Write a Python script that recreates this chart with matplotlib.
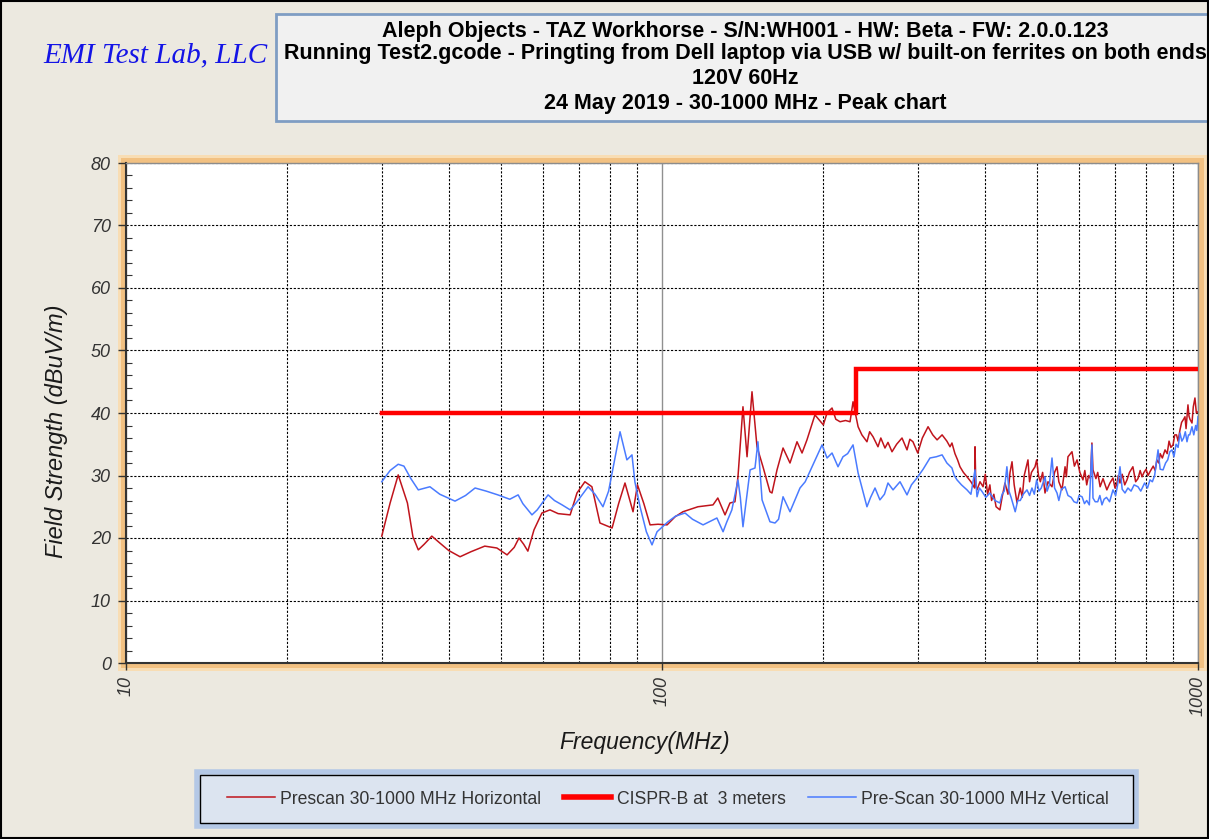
#!/usr/bin/env python
# -*- coding: utf-8 -*-

"""
Radiated emission prescan chart, 30-1000 MHz, peak detector.
"""

# Third party modules.
import matplotlib
matplotlib.use("Agg")
import matplotlib.pyplot as plt
from matplotlib.patches import Rectangle
from matplotlib.lines import Line2D
from matplotlib.ticker import FixedLocator, FixedFormatter, MultipleLocator, NullFormatter

# Globals and constants variables.
WIDTH_px = 1209
HEIGHT_px = 839

title_lines = ["Aleph Objects - TAZ Workhorse - S/N:WH001 - HW: Beta - FW: 2.0.0.123",
               "Running Test2.gcode - Pringting from Dell laptop via USB w/ built-on ferrites on both ends",
               "120V 60Hz",
               "24 May 2019 - 30-1000 MHz - Peak chart"]

series_labels = ["Prescan 30-1000 MHz Horizontal", "CISPR-B at  3 meters", "Pre-Scan 30-1000 MHz Vertical"]

x_ticks_mhz = [10, 100, 1000]
x_tick_labels = ["10", "100", "1000"]
x_minor_mhz = [20, 30, 40, 50, 60, 70, 80, 90, 200, 300, 400, 500, 600, 700, 800, 900]

# CISPR-B limit line at 3 m
limit_freq_mhz = [30, 230, 1000]
limit_level = [40, 47, 47]

# Horizontal polarisation prescan
horiz_freq_mhz = [30.0, 31.1, 32.2, 33.5, 34.3, 35.1, 36.0, 37.2, 38.5, 40.0, 42.0, 44.0, 46.7, 49.2,
                  51.4, 53.0, 54.1, 55.2, 56.2, 57.7, 59.7, 61.8, 64.0, 67.4, 69.4, 71.8, 74.0, 76.6,
                  80.7, 83.0, 85.3, 88.3, 90.0, 92.5, 95.0, 98.3, 102.2, 105.8, 109.4, 116.7, 124.5,
                  127.1, 131.1, 133.9, 136.8, 138.6, 141.6, 144.1, 147.2, 150.4, 154.3, 159.0, 160.4,
                  163.9, 168.2, 173.3, 178.6, 182.5, 186.4, 192.9, 196.0, 200.0, 203.2, 207.6, 211.0,
                  214.9, 220.0, 224.3, 227.2, 232.2, 236.0, 241.2, 244.0, 247.6, 252.9, 256.0, 260.6,
                  264.0, 268.6, 274.0, 280.4, 286.5, 290.0, 293.9, 300.0, 306.0, 313.6, 320.0, 326.0,
                  333.1, 340.0, 344.6, 347.5, 352.0, 356.0, 359.7, 365.0, 370.7, 377.0, 383.0, 383.7,
                  385.0, 387.0, 392.0, 397.2, 401.0, 405.0, 409.0, 412.0, 416.0, 420.0, 427.0, 431.0,
                  436.4, 442.0, 446.0, 449.8, 454.0, 459.6, 466.0, 470.0, 474.0, 481.7, 485.0, 489.0,
                  496.5, 500.0, 504.0, 508.0, 513.0, 518.3, 525.0, 534.1, 540.0, 545.7, 550.0, 557.5,
                  564.9, 568.0, 572.0, 582.0, 588.0, 594.8, 602.0, 610.0, 615.0, 620.0, 625.0, 630.0,
                  634.0, 636.9, 645.0, 650.0, 656.7, 665.0, 676.0, 685.0, 694.0, 700.0, 705.0, 710.0,
                  715.3, 722.0, 730.0, 737.1, 745.0, 756.0, 765.0, 772.7, 780.0, 786.2, 793.0, 800.0,
                  807.0, 813.5, 825.0, 832.0, 838.0, 845.0, 850.0, 858.0, 868.0, 876.0, 883.0, 890.0,
                  898.3, 905.0, 912.0, 918.0, 925.5, 932.0, 940.0, 945.6, 950.0, 957.8, 962.0, 966.0,
                  974.5, 980.0, 987.0, 993.0, 1000.0]
horiz_level = [20.3, 25.6, 30.1, 25.6, 20.2, 18.1, 19.0, 20.3, 19.2, 18.0, 17.0, 17.8, 18.7, 18.4,
               17.3, 18.5, 20.0, 19.0, 17.9, 21.3, 24.0, 24.5, 23.9, 23.7, 27.2, 29.0, 28.2, 22.4,
               21.6, 25.5, 28.8, 24.2, 28.5, 25.5, 22.1, 22.2, 22.1, 23.4, 24.2, 25.0, 25.3,
               26.4, 23.7, 25.6, 25.8, 29.8, 41.0, 33.0, 43.4, 34.6, 31.4, 27.4, 27.2,
               30.9, 34.4, 32.0, 35.4, 33.6, 35.7, 39.7, 39.0, 38.1, 40.0, 40.8, 39.0,
               38.6, 38.8, 38.6, 41.8, 37.8, 36.5, 35.4, 37.0, 36.2, 34.6, 36.0, 34.4,
               35.3, 33.8, 35.0, 36.0, 34.1, 35.8, 35.4, 33.6, 36.0, 37.8, 36.5, 35.7,
               36.5, 35.5, 34.6, 35.2, 33.5, 32.5, 31.4, 30.5, 29.8, 29.0, 28.0, 34.6,
               28.5, 27.7, 29.0, 28.2, 30.2, 27.0, 28.5, 26.0, 27.0, 25.0, 24.5, 26.5,
               28.8, 27.0, 30.5, 32.2, 28.5, 25.6, 28.0, 26.5, 30.0, 32.5, 29.0, 30.5,
               31.4, 32.5, 30.0, 29.0, 30.5, 27.2, 29.0, 28.2, 30.5, 31.4, 29.0, 27.7,
               31.4, 29.8, 33.0, 33.8, 31.5, 32.5, 30.5, 29.3, 30.8, 28.5, 30.0, 29.5,
               35.2, 30.9, 29.5, 30.5, 28.2, 29.5, 27.7, 28.8, 29.6, 28.0, 28.5, 30.0,
               28.8, 30.2, 28.5, 29.3, 30.5, 31.4, 29.0, 29.5, 30.8, 29.8, 30.5, 31.0,
               30.0, 30.6, 31.5, 30.8, 32.5, 32.0, 33.5, 32.8, 34.1, 33.5, 35.5, 34.5,
               34.9, 36.5, 36.5, 35.5, 37.3, 38.5, 39.0, 39.4, 37.5, 41.3, 39.5, 39.0,
               38.4, 41.0, 42.4, 40.0, 40.2]

# Vertical polarisation prescan
vert_freq_mhz = [30.0, 31.1, 32.2, 33.0, 34.0, 35.1, 36.9, 38.5, 41.1, 43.0, 44.8, 47.0, 49.4, 52.0,
                 53.9, 55.0, 57.2, 58.5, 61.3, 63.0, 65.1, 67.4, 69.0, 72.8, 75.0, 77.6, 79.5, 83.5,
                 86.0, 87.9, 89.0, 91.0, 93.5, 95.8, 97.9, 102.6, 106.0, 110.4, 114.0, 119.3, 126.6,
                 130.0, 132.0, 135.0, 138.6, 140.0, 141.6, 146.0, 149.1, 151.0, 153.7, 159.0, 162.5,
                 165.0, 168.2, 173.3, 180.9, 185.0, 190.5, 198.9, 203.2, 207.6, 213.0, 217.6, 222.0,
                 227.2, 232.2, 241.2, 245.0, 249.7, 255.0, 260.0, 264.0, 269.8, 278.0, 286.5, 292.0,
                 299.0, 307.0, 316.2, 325.0, 333.1, 340.0, 347.5, 351.0, 355.1, 362.0, 370.7, 377.0,
                 383.7, 387.0, 391.0, 395.0, 402.0, 409.0, 418.0, 427.0, 431.0, 435.0, 440.0, 444.0,
                 448.0, 456.0, 461.0, 466.0, 472.0, 479.7, 485.0, 490.0, 495.0, 500.0, 505.0, 510.0,
                 518.3, 523.0, 528.0, 534.1, 540.0, 545.7, 550.0, 556.0, 564.9, 572.0, 580.0, 587.0,
                 594.8, 600.0, 607.7, 614.0, 620.0, 627.0, 634.0, 636.9, 643.0, 650.0, 656.0, 662.0,
                 668.0, 675.0, 684.0, 694.0, 702.0, 708.0, 715.3, 722.0, 730.8, 740.0, 750.0, 760.0,
                 772.7, 782.0, 795.0, 805.0, 813.5, 822.0, 830.0, 836.0, 842.3, 850.0, 860.5, 870.0,
                 878.0, 886.0, 894.4, 902.0, 910.0, 918.0, 925.5, 933.0, 940.0, 947.0, 953.8, 960.0,
                 965.0, 974.5, 982.0, 990.0, 995.0, 1000.0]
vert_level = [29.0, 30.8, 31.8, 31.5, 29.5, 27.7, 28.2, 27.0, 25.9, 26.8, 28.0, 27.5, 26.9, 26.2,
              26.9, 25.5, 23.7, 24.5, 26.9, 26.0, 25.3, 24.5, 25.5, 28.2, 27.0, 25.0, 27.5, 37.0,
              32.5, 33.3, 29.0, 25.0, 21.0, 18.9, 21.0, 22.6, 23.5, 24.0, 23.0, 22.1, 23.2,
              21.0, 22.5, 24.5, 29.3, 26.5, 21.8, 30.9, 31.2, 35.4, 26.1, 22.6, 22.4,
              23.0, 26.6, 24.2, 28.0, 29.0, 31.4, 34.9, 32.8, 33.6, 31.4, 33.0, 33.5,
              34.9, 30.4, 25.0, 26.5, 28.0, 26.1, 27.0, 28.8, 27.7, 29.0, 26.9, 28.5,
              29.6, 31.0, 32.8, 33.0, 33.3, 32.0, 31.2, 30.0, 29.3, 28.5, 27.7, 27.0,
              30.9, 26.6, 28.0, 27.5, 26.5, 27.2, 26.0, 25.6, 27.0, 27.5, 31.4, 27.5,
              26.5, 24.2, 26.0, 26.0, 27.0, 27.7, 26.8, 28.0, 27.0, 29.3, 27.5, 28.0,
              29.8, 27.5, 28.5, 32.8, 28.0, 27.2, 26.0, 27.8, 28.2, 26.8, 26.5, 25.8,
              25.6, 26.8, 26.6, 25.5, 26.0, 25.3, 34.9, 26.4, 25.8, 25.8, 26.8, 25.3,
              26.2, 26.5, 25.8, 27.7, 26.8, 28.5, 31.4, 27.8, 27.2, 28.0, 27.5, 28.5,
              28.2, 27.5, 28.8, 28.0, 29.3, 29.0, 30.0, 32.0, 34.1, 31.0, 30.9, 32.0,
              32.5, 33.8, 34.1, 33.0, 35.0, 34.5, 36.8, 35.5, 36.0, 37.0, 35.4, 36.5,
              36.5, 37.8, 36.5, 38.0, 37.2, 39.4]


def fig_x(px):
    return px/WIDTH_px


def fig_y(py):
    return 1.0 - py/HEIGHT_px


def add_box(fig, x0, y0, x1, y1, **kwargs):
    rect = Rectangle((fig_x(x0), fig_y(y1)), fig_x(x1) - fig_x(x0), fig_y(y0) - fig_y(y1),
                     transform=fig.transFigure, **kwargs)
    fig.patches.append(rect)
    return rect


def runChart():
    fig = plt.figure(figsize=(WIDTH_px/100.0, HEIGHT_px/100.0), dpi=100)
    fig.patch.set_facecolor("#ECE9E0")

    # outer frame
    add_box(fig, 1, 1, WIDTH_px - 1, HEIGHT_px - 1, fill=False, ec="black", lw=1.5, zorder=5)

    # logo
    fig.text(fig_x(155), fig_y(55), "EMI Test Lab, LLC", color="#1414E6", fontsize=21,
             style="italic", family="Liberation Serif", ha="center", va="center")

    # title box
    add_box(fig, 276, 14, 1215, 121, fc="#F1F1F1", ec="#7F9DC3", lw=2, zorder=1)
    for line, y in zip(title_lines, [31, 54, 78, 103]):
        fig.text(fig_x(745), fig_y(y), line, ha="center", va="center", fontsize=15.5,
                 fontweight="bold", family="Liberation Sans", color="black", zorder=2)

    # orange glow round the plot area, behind the axes
    add_box(fig, 118, 155, 1207, 671, fc="#F8DDB4", ec="none", zorder=-2)
    add_box(fig, 121, 158, 1204, 668, fc="#F2C182", ec="none", zorder=-1)

    ax = fig.add_axes([fig_x(126), fig_y(663), fig_x(1198) - fig_x(126), fig_y(163) - fig_y(663)])
    ax.set_facecolor("white")
    ax.set_xscale("log")
    ax.set_xlim(10, 1000)
    ax.set_ylim(0, 80)

    ax.xaxis.set_major_locator(FixedLocator(x_ticks_mhz))
    ax.xaxis.set_major_formatter(FixedFormatter(x_tick_labels))
    ax.xaxis.set_minor_locator(FixedLocator(x_minor_mhz))
    ax.xaxis.set_minor_formatter(NullFormatter())
    ax.yaxis.set_major_locator(MultipleLocator(10))
    ax.yaxis.set_minor_locator(MultipleLocator(2))

    ax.grid(which="major", axis="x", color="#909090", ls="-", lw=1.0)
    ax.grid(which="minor", axis="x", color="black", ls=(0, (2, 1.5)), lw=0.8)
    ax.grid(which="major", axis="y", color="black", ls=(0, (2, 1.5)), lw=0.8)

    ax.tick_params(axis="y", which="major", direction="out", length=6, width=1, color="#333333",
                   labelsize=13, labelcolor="#333333", pad=5)
    ax.tick_params(axis="y", which="minor", direction="in", length=4, width=0.8, color="#333333")
    ax.tick_params(axis="x", which="major", direction="out", length=5, width=1, color="#333333",
                   labelsize=13, labelcolor="#333333", pad=4, labelrotation=90)
    ax.tick_params(axis="x", which="minor", length=0)
    for lbl in ax.get_xticklabels() + ax.get_yticklabels():
        lbl.set_fontstyle("italic")
        lbl.set_family("Liberation Sans")

    for side in ["left", "bottom"]:
        ax.spines[side].set_color("#333333")
        ax.spines[side].set_linewidth(1.5)
    for side in ["top", "right"]:
        ax.spines[side].set_color("#8C8C8C")
        ax.spines[side].set_linewidth(1.0)

    ax.plot(horiz_freq_mhz, horiz_level, color="#C0141C", lw=1.1, zorder=3)
    ax.plot(vert_freq_mhz, vert_level, color="#4A7BFF", lw=1.1, zorder=3)
    ax.plot(limit_freq_mhz, limit_level, color="#FF0000", lw=3.2, drawstyle="steps-post",
            solid_joinstyle="miter", zorder=4)

    ax.set_ylabel("Field Strength (dBuV/m)", fontsize=17, style="italic", family="Liberation Sans",
                  color="#1A1A1A")
    ax.yaxis.set_label_coords(-0.054, 0.464)
    ax.set_xlabel("Frequency(MHz)", fontsize=16.5, style="italic", family="Liberation Sans",
                  color="#1A1A1A")
    ax.xaxis.set_label_coords(0.484, -0.136)

    # legend box
    add_box(fig, 197, 772, 1136, 826, fc="none", ec="#B4C8E6", lw=4, zorder=1)
    add_box(fig, 200, 775, 1133, 823, fc="#DCE4F0", ec="black", lw=1, zorder=1)
    handles = [Line2D([], [], color="#C0141C", lw=1.1),
               Line2D([], [], color="#FF0000", lw=4),
               Line2D([], [], color="#4A7BFF", lw=1.1)]
    leg = fig.legend(handles, series_labels, loc="center", bbox_to_anchor=(fig_x(668), fig_y(799)),
                     ncol=3, frameon=False, prop={"family": "Liberation Sans", "size": 12.7},
                     handlelength=2.7, handletextpad=0.3, columnspacing=1.3)
    for txt in leg.get_texts():
        txt.set_color("#333333")
    leg.set_zorder(3)

    fig.savefig("out.png", dpi=100, facecolor=fig.get_facecolor())


if __name__ == '__main__':  # pragma: no cover
    runChart()
